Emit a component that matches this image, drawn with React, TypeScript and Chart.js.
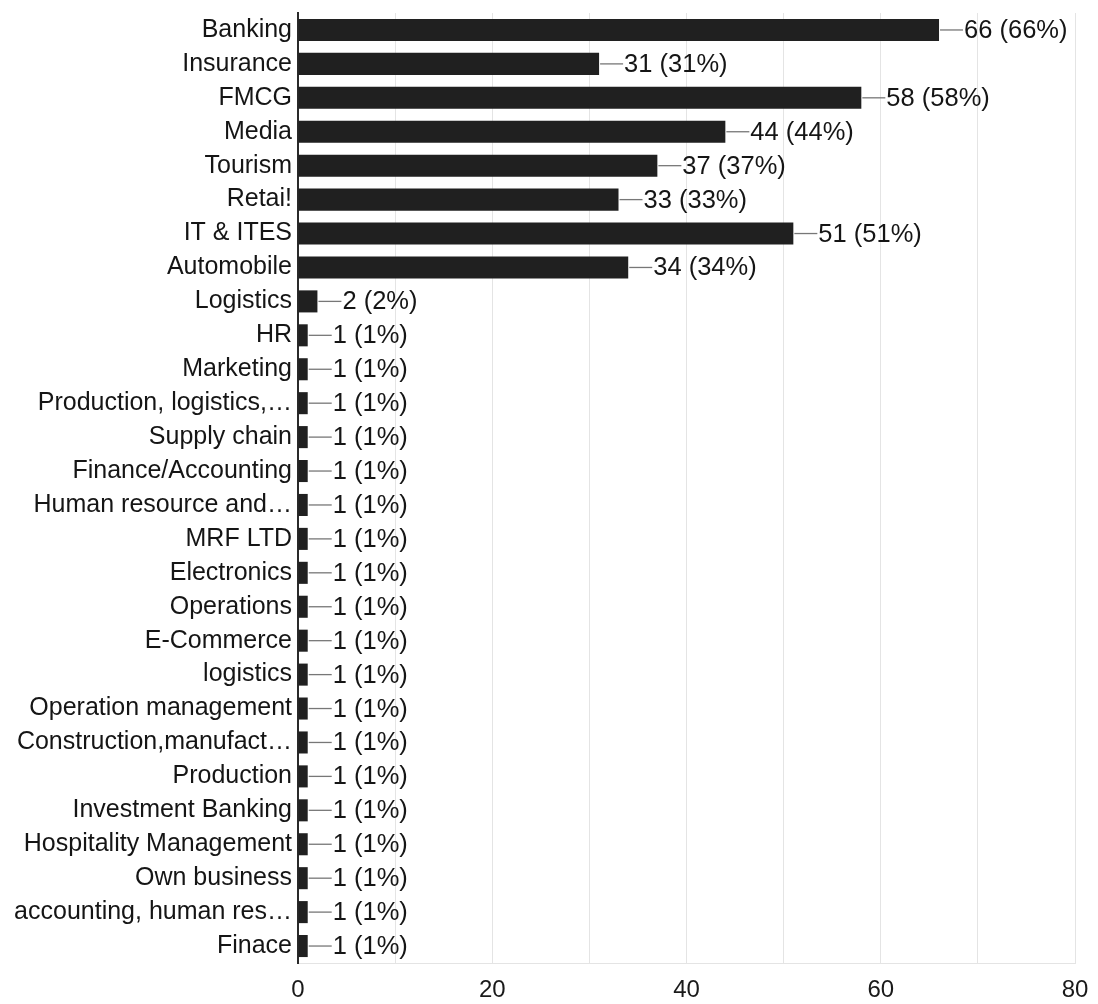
import React, { useEffect, useRef } from "react";
import { Chart, registerables } from "chart.js";

Chart.register(...registerables);

const categories: string[] = [
  "Banking",
  "Insurance",
  "FMCG",
  "Media",
  "Tourism",
  "Retai!",
  "IT & ITES",
  "Automobile",
  "Logistics",
  "HR",
  "Marketing",
  "Production, logistics,…",
  "Supply chain",
  "Finance/Accounting",
  "Human resource and…",
  "MRF LTD",
  "Electronics",
  "Operations",
  "E-Commerce",
  "logistics",
  "Operation management",
  "Construction,manufact…",
  "Production",
  "Investment Banking",
  "Hospitality Management",
  "Own business",
  "accounting, human res…",
  "Finace",
];

const counts: number[] = [
  66, 31, 58, 44, 37, 33, 51, 34, 2, 1, 1, 1, 1, 1, 1, 1, 1, 1, 1, 1, 1, 1, 1,
  1, 1, 1, 1, 1,
];

const percents: number[] = [
  66, 31, 58, 44, 37, 33, 51, 34, 2, 1, 1, 1, 1, 1, 1, 1, 1, 1, 1, 1, 1, 1, 1,
  1, 1, 1, 1, 1,
];

const xTickLabels: number[] = [0, 20, 40, 60, 80];

const FONT = "Arial, 'Liberation Sans', sans-serif";

const valueLabelPlugin = {
  id: "valueLabels",
  afterDatasetsDraw(chart: any) {
    const ctx = chart.ctx;
    const meta = chart.getDatasetMeta(0);
    const xScale = chart.scales.x;
    ctx.save();
    meta.data.forEach((bar: any, i: number) => {
      const v = counts[i];
      const xEnd = xScale.getPixelForValue(v);
      const y = bar.y;
      ctx.strokeStyle = "#777";
      ctx.lineWidth = 1.3;
      ctx.beginPath();
      ctx.moveTo(xEnd + 1, y);
      ctx.lineTo(xEnd + 24, y);
      ctx.stroke();
      ctx.fillStyle = "#151515";
      ctx.font = `25.5px ${FONT}`;
      ctx.textAlign = "left";
      ctx.textBaseline = "middle";
      ctx.fillText(`${v} (${percents[i]}%)`, xEnd + 25, y + 1);
    });
    ctx.restore();
  },
};

export default function App() {
  const canvasRef = useRef<HTMLCanvasElement | null>(null);

  useEffect(() => {
    document.body.style.margin = "0";
    document.body.style.background = "#ffffff";
    const canvas = canvasRef.current;
    if (!canvas) return;
    const chart = new Chart(canvas, {
      type: "bar",
      data: {
        labels: categories,
        datasets: [
          {
            data: counts,
            backgroundColor: "#202020",
            borderWidth: 0,
            barPercentage: 0.65,
            categoryPercentage: 1,
          },
        ],
      },
      options: {
        indexAxis: "y",
        animation: false,
        responsive: true,
        maintainAspectRatio: false,
        layout: { padding: { top: 13, right: 23, left: 0, bottom: 0 } },
        plugins: {
          legend: { display: false },
          tooltip: { enabled: false },
        },
        scales: {
          x: {
            min: 0,
            max: 80,
            afterFit(scale: any) {
              scale.height = 41;
              scale.paddingLeft = 0;
              scale.paddingRight = 0;
            },
            ticks: {
              stepSize: 10,
              color: "#1a1a1a",
              font: { size: 24, family: FONT },
              padding: 13,
              callback: (value: any) =>
                xTickLabels.includes(Number(value)) ? String(value) : "",
            },
            grid: {
              color: "#e4e4e4",
              lineWidth: 1,
              drawTicks: false,
            },
            border: { display: true, color: "#e4e4e4", width: 1 },
          },
          y: {
            afterFit(scale: any) {
              scale.width = 298;
              scale.paddingTop = 0;
              scale.paddingBottom = 0;
            },
            ticks: {
              color: "#151515",
              font: { size: 25, family: FONT },
              padding: 6,
              autoSkip: false,
            },
            grid: { display: false, drawTicks: false },
            border: { display: true, color: "#2a2a2a", width: 2 },
          },
        },
      },
      plugins: [valueLabelPlugin],
    });
    return () => chart.destroy();
  }, []);

  return (
    <div style={{ width: 1098, height: 1004, position: "relative" }}>
      <canvas ref={canvasRef} />
    </div>
  );
}
